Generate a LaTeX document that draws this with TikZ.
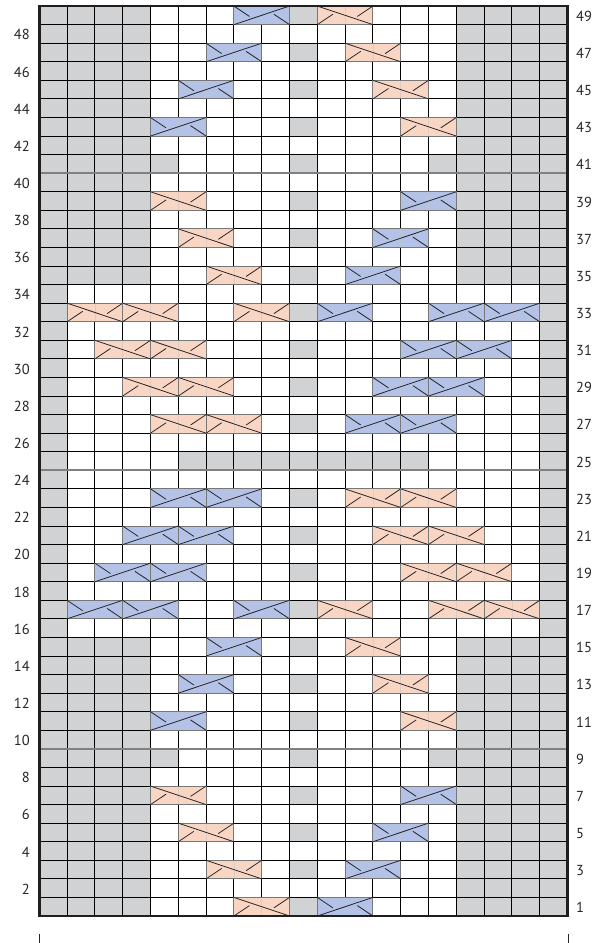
\documentclass[tikz,border=0pt]{standalone}
\usepackage{fontspec}
\setmainfont{PT Sans}
\definecolor{cgry}{HTML}{D1D2D4}
\definecolor{cblu}{HTML}{B3C2E6}
\definecolor{cpnk}{HTML}{F9D5C4}
\definecolor{cedge}{HTML}{777777}
\definecolor{csep}{HTML}{808080}
\newcommand\GX{39.3}
\newcommand\GY{27}
\newcommand\GW{27.8}
\newcommand\GH{18.57}
\newcommand\gcell[2]{\fill[cgry] ({\GX+(#2)*\GW},{\GY+(#1-1)*\GH}) rectangle ++(\GW,\GH);}
\newcommand\blucab[2]{%
  \begin{scope}[shift={({\GX+(#2)*\GW},{\GY+(#1-1)*\GH})}]
    \fill[cblu] (0,0) rectangle (2*\GW,\GH);
    \draw[cblu!80!black!60, line width=0.5pt] (\GW,0) -- (\GW,\GH);
    \draw[cedge, cablebox] (0,0) rectangle (2*\GW,\GH);
    \draw[cableline] (0,0) -- (2*\GW,\GH);
    \draw[cableline] (0,\GH) -- (0.56*\GW,0.44*\GH);
    \draw[cableline] (1.44*\GW,0.56*\GH) -- (2*\GW,0);
  \end{scope}}
\newcommand\pnkcab[2]{%
  \begin{scope}[shift={({\GX+(#2)*\GW},{\GY+(#1-1)*\GH})}]
    \fill[cpnk] (0,0) rectangle (2*\GW,\GH);
    \draw[cpnk!80!black!60, line width=0.5pt] (\GW,0) -- (\GW,\GH);
    \draw[cedge, cablebox] (0,0) rectangle (2*\GW,\GH);
    \draw[cableline] (0,\GH) -- (2*\GW,0);
    \draw[cableline] (0,0) -- (0.56*\GW,0.56*\GH);
    \draw[cableline] (1.44*\GW,0.44*\GH) -- (2*\GW,\GH);
  \end{scope}}
\begin{document}
\begin{tikzpicture}[x=1pt,y=1pt,
  cableline/.style={line width=0.8pt, black!85},
  cablebox/.style={line width=0.9pt},
  gridline/.style={line width=0.95pt, black},
  numlbl/.style={font=\fontsize{14.5}{16}\selectfont, inner sep=0pt, text=black!85}]
\useasboundingbox (0,0) rectangle (603,943);
\fill[white] (0,0) rectangle (603,943);
% grey cells
\foreach \r in {1,2,3,4,5,6,7,8,10,11,12,13,14,15,35,36,37,38,39,40,42,43,44,45,46,47,48,49}
  \foreach \c in {0,1,2,3,15,16,17,18} {\gcell{\r}{\c}}
\foreach \r in {16,...,34}
  \foreach \c in {0,18} {\gcell{\r}{\c}}
\foreach \r in {9,41}
  \foreach \c in {0,1,2,3,4,9,14,15,16,17,18} {\gcell{\r}{\c}}
\foreach \c in {5,...,13} {\gcell{25}{\c}}
\foreach \r in {1,3,...,49} {\gcell{\r}{9}}
% grid
\foreach \c in {0,...,19}
  \draw[gridline] ({\GX+\c*\GW},\GY) -- ({\GX+\c*\GW},{\GY+49*\GH});
\foreach \r in {0,...,49}
  \draw[gridline] (\GX,{\GY+\r*\GH}) -- ({\GX+19*\GW},{\GY+\r*\GH});
% separators
\foreach \r in {9,24,40}
  \draw[csep, line width=1.8pt] (\GX,{\GY+\r*\GH}) -- ({\GX+19*\GW},{\GY+\r*\GH});
% cables
\blucab{49}{7} \pnkcab{49}{10}
\blucab{47}{6} \pnkcab{47}{11}
\blucab{45}{5} \pnkcab{45}{12}
\blucab{43}{4} \pnkcab{43}{13}
\pnkcab{39}{4} \blucab{39}{13}
\pnkcab{37}{5} \blucab{37}{12}
\pnkcab{35}{6} \blucab{35}{11}
\pnkcab{33}{1} \pnkcab{33}{3} \pnkcab{33}{7} \blucab{33}{10} \blucab{33}{14} \blucab{33}{16}
\pnkcab{31}{2} \pnkcab{31}{4} \blucab{31}{13} \blucab{31}{15}
\pnkcab{29}{3} \pnkcab{29}{5} \blucab{29}{12} \blucab{29}{14}
\pnkcab{27}{4} \pnkcab{27}{6} \blucab{27}{11} \blucab{27}{13}
\blucab{23}{4} \blucab{23}{6} \pnkcab{23}{11} \pnkcab{23}{13}
\blucab{21}{3} \blucab{21}{5} \pnkcab{21}{12} \pnkcab{21}{14}
\blucab{19}{2} \blucab{19}{4} \pnkcab{19}{13} \pnkcab{19}{15}
\blucab{17}{1} \blucab{17}{3} \blucab{17}{7} \pnkcab{17}{10} \pnkcab{17}{14} \pnkcab{17}{16}
\blucab{15}{6} \pnkcab{15}{11}
\blucab{13}{5} \pnkcab{13}{12}
\blucab{11}{4} \pnkcab{11}{13}
\pnkcab{7}{4} \blucab{7}{13}
\pnkcab{5}{5} \blucab{5}{12}
\pnkcab{3}{6} \blucab{3}{11}
\pnkcab{1}{7} \blucab{1}{10}
% outer border
\draw[black!88, line width=2.4pt] (\GX,\GY) rectangle ({\GX+19*\GW},{\GY+49*\GH});
% row numbers
\foreach \r in {2,4,...,48}
  \node[numlbl, anchor=east] (L\r) at (30,{\GY+(\r-0.55)*\GH}) {\r};
\foreach \r in {1,3,...,49}
  \node[numlbl, anchor=west] (R\r) at (576,{\GY+(\r-0.55)*\GH}) {\r};
% bottom ticks
\coordinate (tl0) at (39.5,0); \coordinate (tl1) at (39.5,8.5);
\coordinate (tr0) at (568,0); \coordinate (tr1) at (568,8.5);
\draw[black!85, line width=1pt] (tl0) -- (tl1);
\draw[black!85, line width=1pt] (tr0) -- (tr1);
\end{tikzpicture}
\end{document}
